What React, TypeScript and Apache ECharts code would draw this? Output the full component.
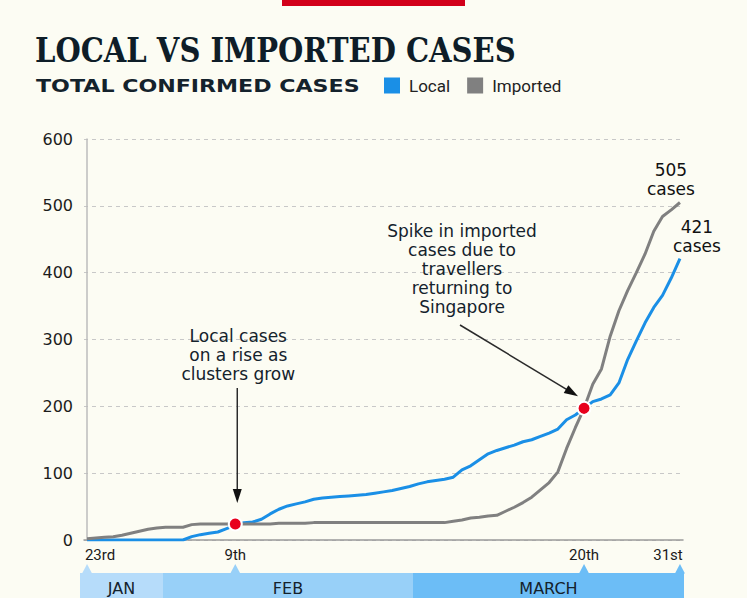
import React, { useEffect, useRef } from "react";
import * as echarts from "echarts";

// Day index 0 = 23 Jan 2020, 68 = 31 Mar 2020
const tickDays = [0, 17, 57, 68];
const tickLabels = ["23rd", "9th", "20th", "31st"];
const monthNames = ["JAN", "FEB", "MARCH"];
const seriesNames = ["Local", "Imported"];

const localCases = [
  0, 0, 0, 0, 0, 0, 0, 0, 0, 0,
  0, 0, 5, 8, 10, 12, 17, 22, 26, 27,
  31, 39, 46, 51, 54, 57, 61, 63, 64, 65,
  66, 67, 68, 70, 72, 74, 77, 80, 84, 87,
  89, 91, 94, 105, 111, 120, 129, 134, 138, 142,
  147, 150, 155, 160, 166, 180, 187, 197, 207, 211,
  217, 235, 270, 298, 325, 348, 366, 392, 421,
];

const importedCases = [
  2, 3, 4, 5, 7, 10, 13, 16, 18, 19,
  19, 19, 23, 24, 24, 24, 24, 24, 24, 24,
  24, 24, 25, 25, 25, 25, 26, 26, 26, 26,
  26, 26, 26, 26, 26, 26, 26, 26, 26, 26,
  26, 26, 28, 30, 33, 34, 36, 37, 43, 49,
  56, 64, 75, 86, 102, 137, 168, 197, 233, 256,
  305, 343, 373, 400, 428, 462, 484, 494, 505,
];

const highlightDays = [17, 57];
const highlightValues = [24, 197];

const BG = "#fcfcf3";
const BLUE = "#1a8fe6";
const GRAY = "#808080";
const INK = "#14222c";
const bandColors = ["#b6dcfa", "#98d0f8", "#6cbdf6"];

export default function App() {
  const ref = useRef<HTMLDivElement>(null);

  useEffect(() => {
    if (!ref.current) return;
    const chart = echarts.init(ref.current, undefined, { renderer: "svg" });
    const last = localCases.length - 1;

    const endLabel = (value: number, dx: number) => ({
      show: true,
      position: "top",
      distance: 3,
      offset: [dx, 0],
      formatter: `${value}\ncases`,
      fontFamily: "DejaVu Sans",
      fontSize: 17,
      lineHeight: 19,
      color: "#111",
      align: "center",
    });

    chart.setOption({
      animation: false,
      backgroundColor: BG,
      grid: { left: 84, right: 64, top: 139, bottom: 58, containLabel: false },
      legend: {
        data: seriesNames,
        left: 384,
        top: 77,
        padding: 0,
        itemWidth: 16,
        itemHeight: 16,
        itemGap: 17,
        icon: "rect",
        textStyle: {
          fontFamily: "Roboto",
          fontSize: 17,
          color: "#222",
          padding: [0, 0, 0, 4],
        },
      },
      xAxis: {
        type: "value",
        min: -0.35,
        max: 68.35,
        splitLine: { show: false },
        axisTick: { show: false },
        axisLine: { show: true, lineStyle: { color: "#9a9a9a", width: 1.5 } },
        axisLabel: {
          customValues: tickDays,
          margin: 7,
          formatter: (v: number) => {
            const i = tickDays.indexOf(Math.round(v));
            if (i < 0) return "";
            if (i === 0) return `{first|${tickLabels[i]}}`;
            if (i === tickDays.length - 1) return `{last|${tickLabels[i]}}`;
            return `{mid|${tickLabels[i]}}`;
          },
          rich: {
            first: { fontFamily: "Roboto", fontSize: 15, color: "#1a1a1a", padding: [0, 0, 0, 26] },
            mid: { fontFamily: "Roboto", fontSize: 15, color: "#1a1a1a" },
            last: { fontFamily: "Roboto", fontSize: 15, color: "#1a1a1a", padding: [0, 24, 0, 0] },
          },
        },
      },
      yAxis: {
        type: "value",
        min: 0,
        max: 600,
        interval: 100,
        axisLine: { show: true, lineStyle: { color: "#bdbdbd", width: 1.5 } },
        axisTick: { show: false },
        axisLabel: {
          fontFamily: "DejaVu Sans",
          fontSize: 16,
          color: "#1c1c1c",
          margin: 11,
        },
        splitLine: {
          show: true,
          lineStyle: { color: "#c8c8c8", type: [4, 4], width: 1 },
        },
      },
      series: [
        {
          name: seriesNames[0],
          type: "line",
          color: BLUE,
          symbol: "none",
          lineStyle: { color: BLUE, width: 3 },
          data: localCases.map((v, i) => [i, v]),
          z: 2,
          markPoint: {
            symbol: "circle",
            symbolSize: 1,
            itemStyle: { color: "rgba(0,0,0,0)" },
            label: endLabel(localCases[last], 17),
            data: [{ coord: [last, localCases[last]] }],
          },
        },
        {
          name: seriesNames[1],
          type: "line",
          color: GRAY,
          symbol: "none",
          lineStyle: { color: GRAY, width: 3 },
          data: importedCases.map((v, i) => [i, v]),
          z: 3,
          markPoint: {
            symbol: "circle",
            symbolSize: 1,
            itemStyle: { color: "rgba(0,0,0,0)" },
            label: endLabel(importedCases[last], -9),
            data: [{ coord: [last, importedCases[last]] }],
          },
        },
        {
          name: "highlight",
          type: "scatter",
          symbolSize: 13,
          itemStyle: { color: "#e8001c", borderColor: "#ffffff", borderWidth: 2, opacity: 1 },
          data: highlightDays.map((d, i) => [d, highlightValues[i]]),
          z: 5,
        },
      ],
    });

    // Decorations positioned from the chart's own scales
    const px = (d: number, v: number) => chart.convertToPixel({ gridIndex: 0 }, [d, v]) as number[];
    const p1 = px(highlightDays[0], highlightValues[0]);
    const p2 = px(highlightDays[1], highlightValues[1]);
    const axisY = px(0, 0)[1];

    const bandTop = axisY + 33;
    const bandEdges = [80, 163, 413, 684];
    const graphics: any[] = [];

    graphics.push({
      type: "rect",
      shape: { x: 282, y: 0, width: 183, height: 6 },
      style: { fill: "#d2001a" },
    });
    graphics.push({
      type: "text",
      x: 35,
      y: 50,
      scaleX: 0.88,
      style: {
        text: "LOCAL VS IMPORTED CASES",
        fontFamily: "DejaVu Serif",
        fontWeight: "bold",
        fontSize: 33,
        fill: "#0e1d28",
        textAlign: "left",
        textVerticalAlign: "middle",
        align: "left",
        verticalAlign: "middle",
      },
    });
    graphics.push({
      type: "text",
      x: 36,
      y: 86,
      scaleX: 1.23,
      style: {
        text: "TOTAL CONFIRMED CASES",
        fontFamily: "DejaVu Sans",
        fontWeight: "bold",
        fontSize: 18,
        fill: INK,
        textAlign: "left",
        textVerticalAlign: "middle",
        align: "left",
        verticalAlign: "middle",
      },
    });

    // month band
    for (let i = 0; i < monthNames.length; i++) {
      graphics.push({
        type: "rect",
        shape: { x: bandEdges[i], y: bandTop, width: bandEdges[i + 1] - bandEdges[i], height: 40 },
        style: { fill: bandColors[i] },
      });
      graphics.push({
        type: "text",
        x: (bandEdges[i] + bandEdges[i + 1]) / 2,
        y: bandTop + 15,
        style: {
          text: monthNames[i],
          fontFamily: "DejaVu Sans",
          fontSize: 16,
          fill: INK,
          textAlign: "center",
          textVerticalAlign: "middle",
          align: "center",
          verticalAlign: "middle",
        },
      });
    }
    tickDays.forEach((d) => {
      const x = px(d, 0)[0];
      let m = 0;
      while (m < 2 && x >= bandEdges[m + 1]) m++;
      graphics.push({
        type: "polygon",
        shape: { points: [[x - 5, bandTop + 0.5], [x + 5, bandTop + 0.5], [x, bandTop - 9]] },
        style: { fill: bandColors[m] },
      });
    });

    // annotation 1
    const a1x = p1[0] + 2;
    graphics.push({
      type: "text",
      x: a1x + 1,
      y: 326,
      style: {
        text: "Local cases\non a rise as\nclusters grow",
        fontFamily: "DejaVu Sans",
        fontSize: 17,
        lineHeight: 19,
        fill: INK,
        textAlign: "center",
        textVerticalAlign: "top",
        align: "center",
        verticalAlign: "top",
      },
    });
    graphics.push({
      type: "line",
      shape: { x1: a1x, y1: 388, x2: a1x, y2: p1[1] - 30 },
      style: { stroke: "#2a2a2a", lineWidth: 1.5 },
    });
    graphics.push({
      type: "polygon",
      shape: { points: [[a1x - 4.5, p1[1] - 35], [a1x + 4.5, p1[1] - 35], [a1x, p1[1] - 21]] },
      style: { fill: "#111" },
    });

    // annotation 2
    graphics.push({
      type: "text",
      x: 462,
      y: 221,
      style: {
        text: "Spike in imported\ncases due to\ntravellers\nreturning to\nSingapore",
        fontFamily: "DejaVu Sans",
        fontSize: 17,
        lineHeight: 19,
        fill: INK,
        textAlign: "center",
        textVerticalAlign: "top",
        align: "center",
        verticalAlign: "top",
      },
    });
    const sx = 460, sy = 325;
    const tx = p2[0] - 6, ty = p2[1] - 12;
    const len = Math.hypot(tx - sx, ty - sy);
    const ux = (tx - sx) / len, uy = (ty - sy) / len;
    const bx = tx - ux * 14, by = ty - uy * 14;
    graphics.push({
      type: "line",
      shape: { x1: sx, y1: sy, x2: bx + ux * 2, y2: by + uy * 2 },
      style: { stroke: "#2a2a2a", lineWidth: 1.5 },
    });
    graphics.push({
      type: "polygon",
      shape: {
        points: [
          [bx - uy * 4.5, by + ux * 4.5],
          [bx + uy * 4.5, by - ux * 4.5],
          [tx, ty],
        ],
      },
      style: { fill: "#111" },
    });

    chart.setOption({ graphic: graphics });

    return () => chart.dispose();
  }, []);

  return (
    <div
      ref={ref}
      style={{ position: "fixed", left: 0, top: 0, width: 747, height: 598, background: BG }}
    />
  );
}
